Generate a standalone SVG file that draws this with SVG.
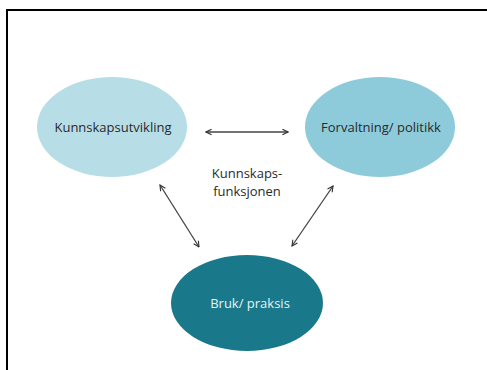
<svg xmlns="http://www.w3.org/2000/svg" width="487" height="370" viewBox="0 0 487 370">
<defs>
<style>
.lbl{font-family:"Open Sans","Liberation Sans",sans-serif;font-size:13px;fill:#2a2a2a;text-anchor:middle}
.con{stroke:#444;stroke-width:1.3;fill:none;marker-start:url(#ah);marker-end:url(#ah)}
</style>
<marker id="ah" viewBox="0 0 10 10" refX="9" refY="5" markerWidth="7" markerHeight="7" orient="auto-start-reverse" markerUnits="userSpaceOnUse">
<path d="M1,1 L9,5 L1,9" fill="none" stroke="#333" stroke-width="1.6"/>
</marker>
</defs>
<rect width="487" height="370" fill="#fff"/>
<path d="M7,370 V10 H487" fill="none" stroke="#000" stroke-width="2"/>
<g id="kunnskapsutvikling">
<ellipse cx="112" cy="127" rx="75" ry="50" fill="#b7dde7"/>
<text class="lbl" x="113" y="132">Kunnskapsutvikling</text>
</g>
<g id="forvaltning">
<ellipse cx="380" cy="127" rx="75" ry="50" fill="#8dcbda"/>
<text class="lbl" x="381" y="132">Forvaltning/ politikk</text>
</g>
<g id="bruk">
<ellipse cx="247" cy="303" rx="76" ry="48" fill="#19798b"/>
<text class="lbl" x="250" y="308" style="fill:#e8f2f4">Bruk/ praksis</text>
</g>
<g id="center-label">
<text class="lbl" x="247" y="178">Kunnskaps-</text>
<text class="lbl" x="247" y="196">funksjonen</text>
</g>
<g id="connectors">
<line class="con" x1="206" y1="132" x2="288" y2="132"/>
<line class="con" x1="160" y1="185" x2="199" y2="247"/>
<line class="con" x1="333" y1="186" x2="292" y2="246"/>
</g>
</svg>
